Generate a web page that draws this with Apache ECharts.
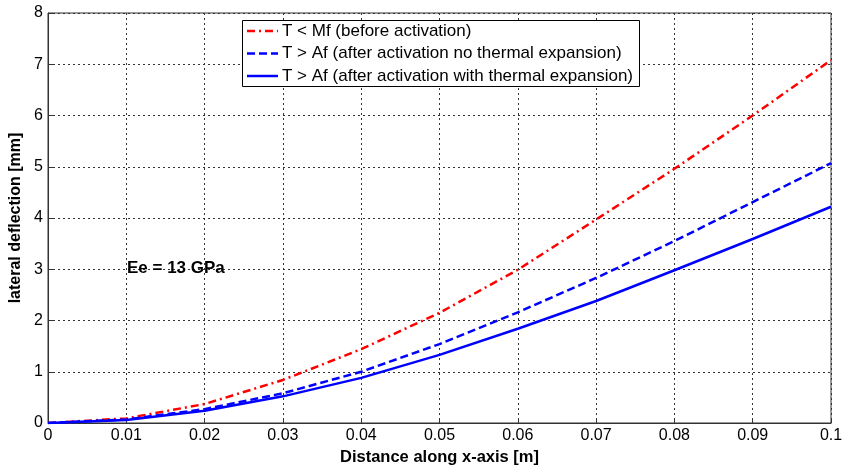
<!DOCTYPE html>
<html><head><meta charset="utf-8">
<script src="https://cdn.jsdelivr.net/npm/echarts@6/dist/echarts.min.js"></script>
<style>html,body{margin:0;padding:0;background:#fff}#c{width:844px;height:465px}</style>
</head><body><div id="c"></div>
<script>
const xValues = [0, 0.01, 0.02, 0.03, 0.04, 0.05, 0.06, 0.07, 0.08, 0.09, 0.1];
const beforeActivation = [0, 0.09, 0.37, 0.84, 1.44, 2.15, 2.99, 3.97, 4.96, 6.0, 7.08];
const afterNoThermal = [0, 0.07, 0.27, 0.58, 1.0, 1.54, 2.16, 2.83, 3.55, 4.31, 5.07];
const afterWithThermal = [0, 0.06, 0.24, 0.52, 0.88, 1.33, 1.84, 2.38, 2.98, 3.59, 4.22];
const seriesNames = ['T < Mf (before activation)', 'T > Af (after activation no thermal expansion)', 'T > Af (after activation with thermal expansion)'];
const annotation = 'Ee = 13 GPa';

const pair = (ys) => xValues.map((x, i) => [x, ys[i]]);
const font = 'Liberation Sans, Arial, sans-serif';
const styles = [
  { color: '#ff0000', type: [8, 4, 2, 4] },
  { color: '#0000ff', type: [8, 4] },
  { color: '#0000ff', type: 'solid' }
];
const chart = echarts.init(document.getElementById('c'));
const gridLine = { show: true, lineStyle: { color: '#333', type: [2, 3], width: 1 } };

const legendGraphics = [
  { type: 'rect', shape: { x: 242.5, y: 20.5, width: 397, height: 66 }, style: { fill: '#fff', stroke: '#000', lineWidth: 1 }, z: 100 }
];
const rowY = [31, 53.5, 76];
seriesNames.forEach((n, i) => {
  legendGraphics.push({ type: 'line', shape: { x1: 247, y1: rowY[i], x2: 278, y2: rowY[i] },
    style: { stroke: styles[i].color, lineWidth: 2.5, lineDash: Array.isArray(styles[i].type) ? styles[i].type : null }, z: 101 });
  legendGraphics.push({ type: 'text', x: 282, y: rowY[i], style: { text: n, font: '17px ' + font, fill: '#000', verticalAlign: 'middle' }, z: 101 });
});

chart.setOption({
  animation: false,
  grid: { left: 48, right: 13, top: 13, bottom: 42, show: true, borderColor: '#333', borderWidth: 1,
    containLabel: false, outerBoundsMode: 'none' },
  xAxis: {
    type: 'value', min: 0, max: 0.1, interval: 0.01,
    name: 'Distance along x-axis [m]', nameLocation: 'middle', nameGap: 20,
    nameTextStyle: { fontFamily: font, fontSize: 16.5, fontWeight: 'bold', color: '#000' },
    axisLine: { lineStyle: { color: '#333' } },
    axisTick: { inside: true, length: 5, lineStyle: { color: '#333' } },
    axisLabel: { fontFamily: font, fontSize: 16, color: '#000', margin: 5,
      formatter: v => +v.toFixed(2) + '' },
    splitLine: gridLine
  },
  yAxis: {
    type: 'value', min: 0, max: 8, interval: 1,
    name: 'lateral deflection [mm]', nameLocation: 'middle', nameGap: 22,
    nameTextStyle: { fontFamily: font, fontSize: 16, fontWeight: 'bold', color: '#000' },
    axisLine: { show: true, lineStyle: { color: '#333' } },
    axisTick: { show: true, inside: true, length: 5, lineStyle: { color: '#333' } },
    axisLabel: { fontFamily: font, fontSize: 16, color: '#000', margin: 5 },
    splitLine: gridLine
  },
  series: seriesNames.map((n, i) => ({
    name: n, type: 'line', data: pair([beforeActivation, afterNoThermal, afterWithThermal][i]),
    showSymbol: false, symbol: 'none',
    lineStyle: { color: styles[i].color, width: 2.5, type: styles[i].type }
  })),
  graphic: legendGraphics.concat([
    { type: 'text', x: 127, y: 268, style: { text: annotation, font: 'bold 17px ' + font, fill: '#000', verticalAlign: 'middle' }, z: 100 }
  ])
});
</script></body></html>
